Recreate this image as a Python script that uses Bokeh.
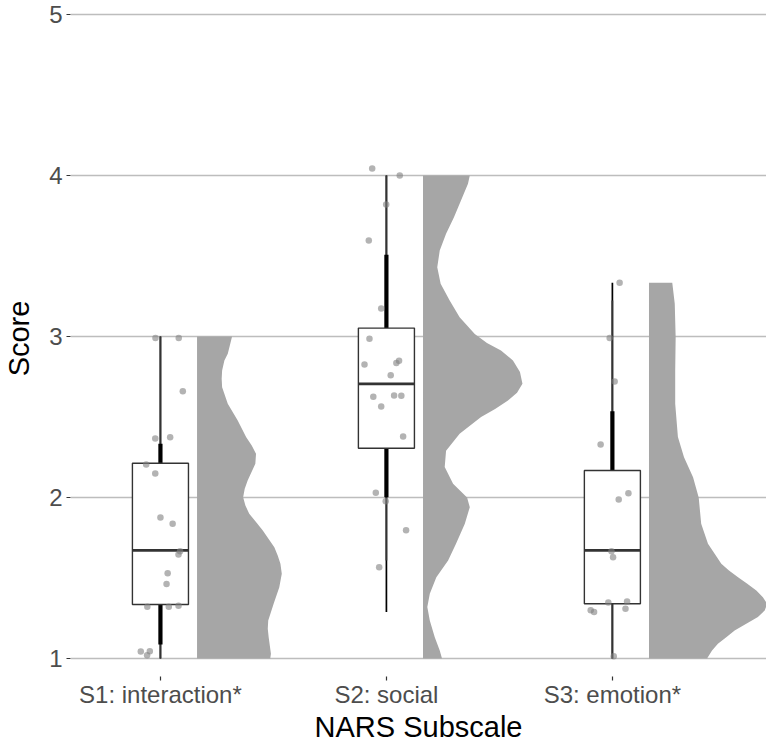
from bokeh.plotting import figure
from bokeh.models import Range1d, FixedTicker
from bokeh.embed import file_html
from bokeh.resources import INLINE

# ---------------- data ----------------
categories = ["S1: interaction*", "S2: social", "S3: emotion*"]
cat_pos = [1, 2, 3]

box_q1 = [1.335, 2.306, 1.340]
box_med = [1.671, 2.706, 1.671]
box_q3 = [2.213, 3.052, 2.168]
whisk_lo = [1.0, 1.609, 1.0]
whisk_hi = [3.0, 4.0, 3.224]
int95_lo = [1.0, 1.288, 1.0]
int95_hi = [3.0, 4.0, 3.334]
int66_lo = [1.087, 2.002, 1.340]
int66_hi = [2.333, 3.507, 2.536]

# jittered raw scores (value, horizontal jitter in category units)
s1_scores = [2.99, 2.99, 2.66, 2.366, 2.374, 2.205, 2.149, 1.876, 1.837, 1.666,
             1.646, 1.530, 1.462, 1.321, 1.321, 1.327, 1.043, 1.045, 1.02]
s1_jitter = [-0.022, 0.081, 0.099, -0.023, 0.043, -0.063, -0.023, 0.0, 0.054, 0.087,
             0.080, 0.032, 0.027, -0.058, 0.037, 0.080, -0.087, -0.047, -0.059]
s2_scores = [4.043, 4.0, 3.82, 3.596, 3.174, 2.986, 2.826, 2.836, 2.849, 2.76,
             2.625, 2.634, 2.632, 2.565, 2.379, 2.029, 1.977, 1.797, 1.567]
s2_jitter = [-0.063, 0.059, -0.001, -0.078, -0.023, -0.075, -0.097, 0.044, 0.056, 0.019,
             -0.058, 0.034, 0.066, -0.023, 0.074, -0.047, -0.003, 0.087, -0.032]
s3_scores = [3.334, 2.99, 2.72, 2.329, 2.027, 1.988, 1.666, 1.629, 1.348, 1.354,
             1.309, 1.30, 1.288, 1.014]
s3_jitter = [0.032, -0.012, 0.010, -0.052, 0.071, 0.028, -0.004, 0.003, -0.018, 0.065,
             0.058, -0.096, -0.081, 0.006]

# half-violin density profiles (score level, width in category units)
s1_dens_y = [1.0, 1.029, 1.132, 1.184, 1.236, 1.340, 1.443, 1.526, 1.588, 1.640, 1.691,
             1.795, 1.899, 1.950, 2.002, 2.054, 2.106, 2.209, 2.271, 2.323, 2.375, 2.478,
             2.582, 2.685, 2.737, 2.789, 2.851, 2.892, 3.0]
s1_dens_w = [0.324, 0.327, 0.317, 0.313, 0.315, 0.339, 0.364, 0.375, 0.369, 0.357, 0.342,
             0.291, 0.231, 0.214, 0.204, 0.211, 0.224, 0.258, 0.261, 0.242, 0.217, 0.180,
             0.136, 0.111, 0.109, 0.111, 0.121, 0.136, 0.155]
s2_dens_y = [1.0, 1.05, 1.132, 1.236, 1.319, 1.402, 1.505, 1.609, 1.712, 1.837, 1.94,
             2.0, 2.085, 2.19, 2.29, 2.396, 2.5, 2.55, 2.602, 2.65, 2.706, 2.78, 2.851,
             2.913, 2.96, 3.016, 3.12, 3.224, 3.327, 3.43, 3.534, 3.638, 3.741, 3.845,
             3.948, 4.0]
s2_dens_w = [0.084, 0.074, 0.052, 0.030, 0.019, 0.030, 0.059, 0.111, 0.146, 0.185, 0.207,
             0.195, 0.133, 0.096, 0.102, 0.162, 0.257, 0.319, 0.376, 0.416, 0.440, 0.429,
             0.398, 0.345, 0.283, 0.229, 0.162, 0.118, 0.078, 0.063, 0.074, 0.102, 0.137,
             0.168, 0.199, 0.207]
s3_dens_y = [1.0, 1.05, 1.091, 1.132, 1.174, 1.257, 1.298, 1.34, 1.381, 1.422, 1.464,
             1.505, 1.547, 1.588, 1.712, 1.837, 2.0, 2.126, 2.25, 2.375, 2.582, 2.789,
             2.996, 3.203, 3.334]
s3_dens_w = [0.257, 0.279, 0.305, 0.342, 0.379, 0.482, 0.512, 0.523, 0.504, 0.475, 0.435,
             0.394, 0.354, 0.320, 0.261, 0.231, 0.220, 0.195, 0.155, 0.128, 0.116, 0.116,
             0.118, 0.114, 0.103]

y_ticks = [1, 2, 3, 4, 5]

# ---------------- style ----------------
FONT = "Liberation Sans"
BOX_HALF = 0.124
VIOLIN_OFFSET = 0.162
VIOLIN_COLOR = "#A6A6A6"

p = figure(frame_width=696, frame_height=676,
           x_range=Range1d(0.602, 3.682), y_range=Range1d(0.888, 5.087),
           output_backend="svg", toolbar_location=None,
           min_border_left=69, min_border_right=0, min_border_top=0, min_border_bottom=10)
p.outline_line_color = None
p.background_fill_color = "white"
p.border_fill_color = "white"

# violins
for pos, dy, dw in [(1, s1_dens_y, s1_dens_w), (2, s2_dens_y, s2_dens_w), (3, s3_dens_y, s3_dens_w)]:
    base = pos + VIOLIN_OFFSET
    p.harea(y=dy, x1=[base] * len(dy), x2=[base + w for w in dw],
            fill_color=VIOLIN_COLOR, fill_alpha=1.0)

# interval / whiskers
p.segment(x0=cat_pos, x1=cat_pos, y0=int95_lo, y1=int95_hi, line_color="black", line_width=1.7)
p.segment(x0=cat_pos, x1=cat_pos, y0=whisk_lo, y1=whisk_hi, line_color="#333333", line_width=1.7)
p.segment(x0=cat_pos, x1=cat_pos, y0=int66_lo, y1=int66_hi, line_color="black", line_width=4.2)

# boxes
p.quad(left=[c - BOX_HALF for c in cat_pos], right=[c + BOX_HALF for c in cat_pos],
       bottom=box_q1, top=box_q3, fill_color="white", line_color="#333333", line_width=1.4)
p.segment(x0=[c - BOX_HALF for c in cat_pos], x1=[c + BOX_HALF for c in cat_pos],
          y0=box_med, y1=box_med, line_color="#333333", line_width=2.8)

# points
for pos, sc, jt in [(1, s1_scores, s1_jitter), (2, s2_scores, s2_jitter), (3, s3_scores, s3_jitter)]:
    p.scatter(x=[pos + j for j in jt], y=sc, size=6.5, fill_color="grey", fill_alpha=0.6,
              line_color=None)

# axes
p.xaxis.ticker = FixedTicker(ticks=cat_pos)
p.xaxis.major_label_overrides = {c: lab for c, lab in zip(cat_pos, categories)}
p.yaxis.ticker = FixedTicker(ticks=y_ticks)
for ax in (p.xaxis[0], p.yaxis[0]):
    ax.axis_line_color = None
    ax.major_tick_line_color = "#333333"
    ax.major_tick_line_width = 1.2
    ax.major_tick_out = 4
    ax.major_tick_in = 0
    ax.minor_tick_line_color = None
    ax.major_label_text_font = FONT
    ax.major_label_text_font_size = "24px"
    ax.major_label_text_color = "#4D4D4D"
    ax.axis_label_text_font = FONT
    ax.axis_label_text_font_size = "29px"
    ax.axis_label_text_font_style = "normal"
    ax.axis_label_text_color = "black"
p.xaxis.axis_label = "NARS Subscale"
p.yaxis.axis_label = "Score"
p.xaxis.major_label_standoff = 0
p.xaxis.axis_label_standoff = 0
p.yaxis.major_label_standoff = 4
p.yaxis.axis_label_standoff = 11

p.xgrid.grid_line_color = None
p.ygrid.grid_line_color = "#BDBDBD"
p.ygrid.grid_line_width = 1.3

open("out.html", "w").write(file_html(p, INLINE))
